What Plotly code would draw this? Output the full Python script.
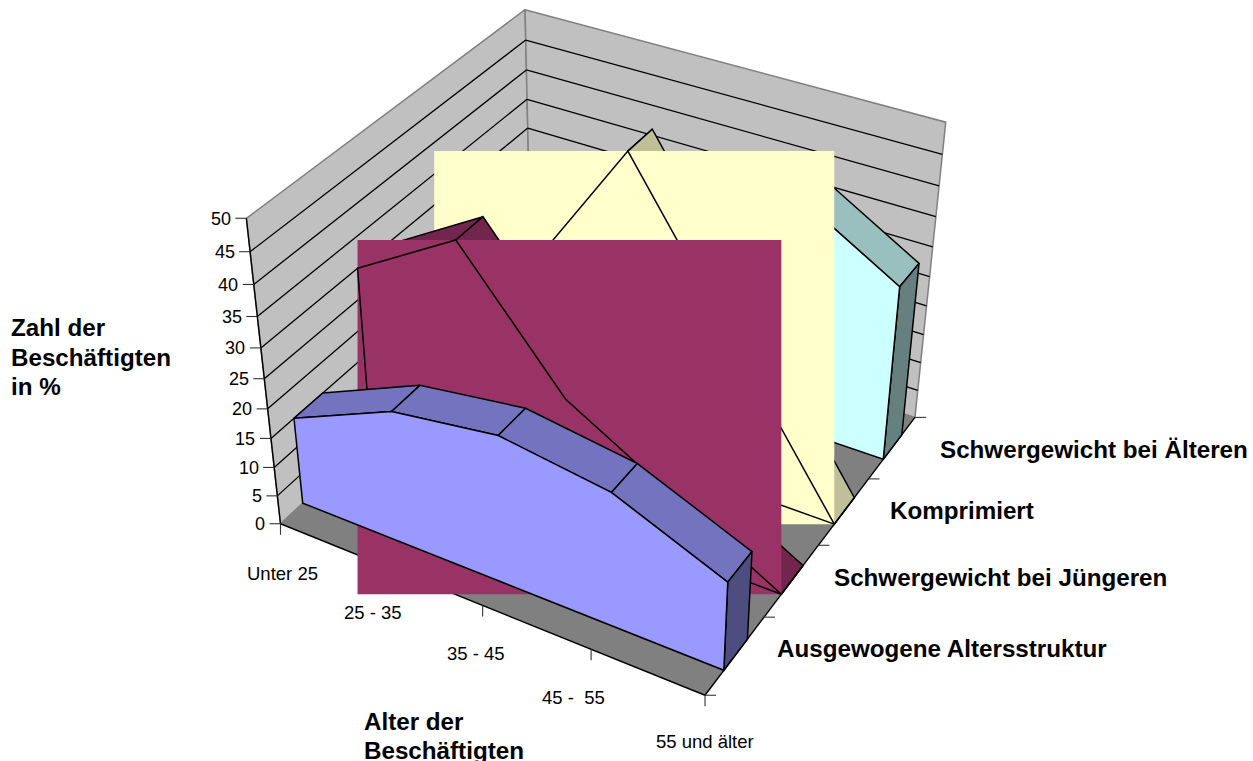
import numpy as np
import plotly.graph_objects as go

# Age groups along the horizontal axis
AGE_GROUPS = ["Unter 25", "25 - 35", "35 - 45", "45 -\u00a0 55", "55 und älter"]

# Share of employees in percent per age structure
AUSGEWOGEN = [15, 22.5, 25, 22.5, 15]
JUENGERE = [30, 40, 20, 10, 0]
KOMPRIMIERT = [0, 25, 50, 25, 0]
AELTERE = [0, 10, 20, 40, 30]

SERIES_NAMES = [
    "Ausgewogene Altersstruktur",
    "Schwergewicht bei Jüngeren",
    "Komprimiert",
    "Schwergewicht bei Älteren",
]
VALUE_TICKS = [0, 5, 10, 15, 20, 25, 30, 35, 40, 45, 50]
VALUE_MAX = 50

# Perspective camera: unit cube (age, structure, value) to page pixels
CAMERA = np.array([
    [3.604392e+02, 3.343470e+02, -5.770512e+01, 2.804871e+02],
    [1.082739e+02, -1.871168e+02, -3.263662e+02, 5.237500e+02],
    [-9.091883e-02, 1.568538e-01, -9.572673e-02, 1.000000e+00],
])

BAND_FRONT, BAND_BACK = 0.31, 0.71
WIDTH, HEIGHT = 1253, 761
FONT = "Liberation Sans"
EDGE = 1.5


def project(x, y, z):
    h = CAMERA @ np.array([x, y, z, 1.0])
    return h[0] / h[2], h[1] / h[2]


def age_pos(i):
    return i / (len(AGE_GROUPS) - 1)


fig = go.Figure()


def polygon(points, fill=None, edge="black", width=EDGE, close=True):
    xs = [p[0] for p in points]
    ys = [p[1] for p in points]
    if close:
        xs.append(xs[0])
        ys.append(ys[0])
    fig.add_trace(go.Scatter(
        x=xs, y=ys, mode="lines",
        fill="toself" if fill else "none",
        fillcolor=fill,
        line=dict(color=edge if edge else "rgba(0,0,0,0)", width=width if edge else 0),
        hoverinfo="skip", showlegend=False,
    ))


def segment(a, b, color="black", width=1.3):
    polygon([a, b], edge=color, width=width, close=False)


# Walls and floor
polygon([project(0, 0, 0), project(0, 0, 1), project(0, 1, 1), project(0, 1, 0)], "#C0C0C0", "#808080", 1.5)
polygon([project(0, 1, 0), project(0, 1, 1), project(1, 1, 1), project(1, 1, 0)], "#C0C0C0", "#808080", 1.5)
polygon([project(0, 0, 0), project(1, 0, 0), project(1, 1, 0), project(0, 1, 0)], "#808080", None)

# Gridlines on both walls
for v in VALUE_TICKS[1:-1]:
    z = v / VALUE_MAX
    segment(project(0, 0, z), project(0, 1, z))
    segment(project(0, 1, z), project(1, 1, z))

# Axis lines
segment(project(0, 0, 0), project(0, 0, 1), width=1.4)
segment(project(0, 0, 0), project(1, 0, 0), width=1.4)
segment(project(1, 0, 0), project(1, 1, 0), width=1.4)

# Tick marks
TICK = 11
for v in VALUE_TICKS:
    px, py = project(0, 0, v / VALUE_MAX)
    segment((px - TICK, py), (px, py), "#333333", 1.1)
for i in range(len(AGE_GROUPS)):
    px, py = project(age_pos(i), 0, 0)
    segment((px, py), (px, py + TICK), "#333333", 1.1)
for k in range(len(SERIES_NAMES) + 1):
    px, py = project(1, k / len(SERIES_NAMES), 0)
    segment((px, py), (px + TICK, py), "#333333", 1.1)

# Area ribbons, back to front
RIBBONS = [
    (3, AELTERE, "#CCFFFF", "#99BFBF", "#668080", False),
    (2, KOMPRIMIERT, "#FFFFCC", "#BFBF99", "#808066", True),
    (1, JUENGERE, "#993366", "#73264D", "#4D1A33", True),
    (0, AUSGEWOGEN, "#9999FF", "#7373BF", "#4D4D80", False),
]

for band, values, front_c, top_c, side_c, boxed in RIBBONS:
    yf = (band + BAND_FRONT) / len(SERIES_NAMES)
    yb = (band + BAND_BACK) / len(SERIES_NAMES)
    n = len(values)
    zs = [v / VALUE_MAX for v in values]
    for i in range(n - 1):
        x0, x1 = age_pos(i), age_pos(i + 1)
        polygon([project(x0, yf, zs[i]), project(x1, yf, zs[i + 1]),
                 project(x1, yb, zs[i + 1]), project(x0, yb, zs[i])], top_c)
    polygon([project(1, yf, 0), project(1, yb, 0), project(1, yb, zs[-1]), project(1, yf, zs[-1])], side_c)

    outline = [project(age_pos(i), yf, zs[i]) for i in range(n)]
    outline += [project(1, yf, 0), project(0, yf, 0)]
    if boxed:
        # These two ribbons paint their front face as its full bounding box
        xs = [p[0] for p in outline]
        ys = [p[1] for p in outline]
        polygon([(min(xs), min(ys)), (max(xs), min(ys)), (max(xs), max(ys)), (min(xs), max(ys))], front_c, None)
        polygon(outline, None)
    else:
        polygon(outline, front_c)

annotations = []


def label(x, y, text, size, anchor="left", bold=False):
    annotations.append(dict(
        x=x, y=y, xref="x", yref="y", text=f"<b>{text}</b>" if bold else text,
        showarrow=False, xanchor=anchor, yanchor="middle", align="left", borderpad=0,
        font=dict(family=FONT, size=size, color="black"),
    ))


for v in VALUE_TICKS:
    px, py = project(0, 0, v / VALUE_MAX)
    label(px - TICK - 3.5, py + 0.5, str(v), 18, "right")

for text, (cx, cy) in zip(AGE_GROUPS, [(282.5, 573), (373, 612), (476, 653), (573.5, 697), (704.5, 741)]):
    label(cx, cy, text, 18.5, "center")

for text, (lx, ly) in zip(SERIES_NAMES, [(776, 648), (833, 577), (889, 510), (939, 449)]):
    label(lx, ly, text, 24.2, bold=True)

for text, ty in zip(["Zahl der", "Beschäftigten", "in %"], [327, 357, 386]):
    label(10, ty, text, 24.2, bold=True)
for text, ty in zip(["Alter der", "Beschäftigten"], [721, 750]):
    label(363, ty, text, 24.2, bold=True)

fig.update_layout(
    width=WIDTH, height=HEIGHT, autosize=False,
    margin=dict(l=0, r=0, t=0, b=0),
    paper_bgcolor="white", plot_bgcolor="white",
    xaxis=dict(range=[0, WIDTH], visible=False, fixedrange=True),
    yaxis=dict(range=[HEIGHT, 0], visible=False, fixedrange=True),
    annotations=annotations,
    showlegend=False,
)

fig.write_html("out.html", config={"displayModeBar": False})
